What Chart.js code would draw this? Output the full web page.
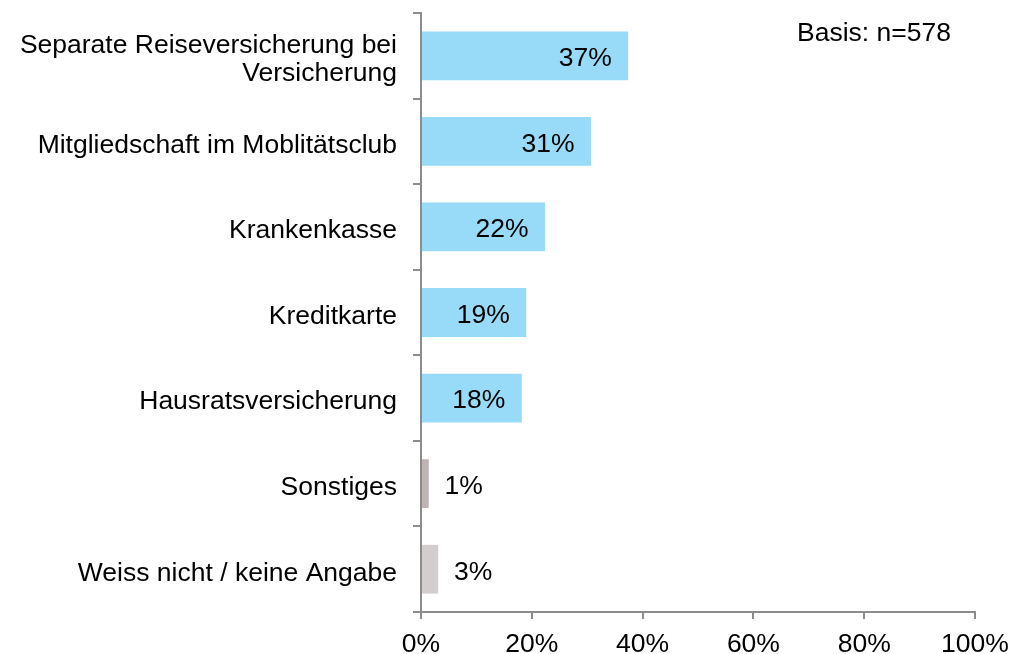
<html>
<head>
<meta charset="utf-8">
<script src="https://cdn.jsdelivr.net/npm/chart.js"></script>
<style>
  body { margin: 0; background: #fff; }
</style>
</head>
<body>
<canvas id="myChart" width="1012" height="654"></canvas>
<script>
var categories = [
  ["Separate Reiseversicherung bei", "Versicherung"],
  "Mitgliedschaft im Moblitätsclub",
  "Krankenkasse",
  "Kreditkarte",
  "Hausratsversicherung",
  "Sonstiges",
  "Weiss nicht / keine Angabe"
];
var values = [37.4, 30.7, 22.4, 19.0, 18.2, 1.4, 3.1];
var valueLabels = ["37%", "31%", "22%", "19%", "18%", "1%", "3%"];
var barColors = ["#97dbf8", "#97dbf8", "#97dbf8", "#97dbf8", "#97dbf8", "#bfb4b4", "#d4cdcd"];
var xTicks = [0, 20, 40, 60, 80, 100];
var baseNote = "Basis: n=578";

var FONT = "'Liberation Sans', Arial, sans-serif";
var FS = 26.5;

var labelPlugin = {
  id: "valueLabels",
  afterDatasetsDraw: function(chart) {
    var ctx = chart.ctx;
    var meta = chart.getDatasetMeta(0);
    ctx.save();
    ctx.font = FS + "px " + FONT;
    ctx.fillStyle = "#000";
    ctx.textBaseline = "middle";
    ctx.textAlign = "center";
    meta.data.forEach(function(bar, i) {
      var x = values[i] > 10 ? bar.x - 43 : bar.x + 35;
      ctx.fillText(valueLabels[i], x, bar.y + 3);
    });
    ctx.textAlign = "left";
    ctx.fillText(baseNote, 797, 34);
    ctx.restore();
  }
};

var ctx = document.getElementById("myChart").getContext("2d");
var chart = new Chart(ctx, {
  type: "bar",
  data: {
    labels: categories,
    datasets: [{
      data: values,
      backgroundColor: barColors,
      barPercentage: 0.57,
      categoryPercentage: 1
    }]
  },
  options: {
    indexAxis: "y",
    responsive: false,
    animation: false,
    devicePixelRatio: 1,
    layout: { padding: { top: 13, right: 37, left: 0, bottom: 0 } },
    plugins: { legend: { display: false }, tooltip: { enabled: false } },
    scales: {
      x: {
        min: 0, max: 100,
        afterBuildTicks: function(s) { s.ticks = xTicks.map(function(v) { return { value: v }; }); },
        afterFit: function(s) { s.height = 42; s.paddingLeft = 0; s.paddingRight = 0; },
        border: { color: "#8c8c8c", width: 2 },
        grid: { drawOnChartArea: false, tickLength: 7, color: "#8c8c8c", lineWidth: 2 },
        ticks: {
          color: "#000", padding: 10,
          font: { family: FONT, size: FS },
          callback: function(v) { return v + "%"; }
        }
      },
      y: {
        afterFit: function(s) { s.width = 421; s.paddingTop = 0; s.paddingBottom = 0; },
        border: { color: "#8c8c8c", width: 2 },
        grid: { drawOnChartArea: false, tickLength: 8, color: "#8c8c8c", lineWidth: 2, offset: true },
        ticks: {
          color: "#000", padding: 16, labelOffset: 4,
          font: { family: FONT, size: FS, lineHeight: 1.06 }
        }
      }
    }
  },
  plugins: [labelPlugin]
});
</script>
</body>
</html>
